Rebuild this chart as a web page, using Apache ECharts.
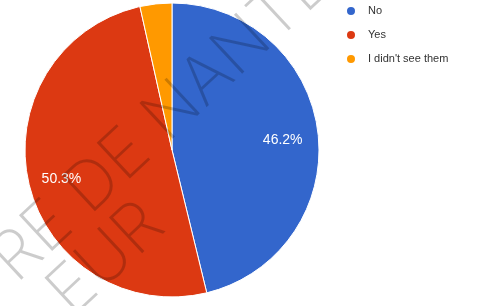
<!DOCTYPE html>
<html>
<head>
    <meta charset="utf-8">
    <title>pie</title>
    <script src="https://cdn.jsdelivr.net/npm/echarts@6/dist/echarts.min.js"></script>
    <style>
        html, body { margin: 0; padding: 0; background: #fff; }
        #pie { width: 494px; height: 306px; }
    </style>
</head>
<body>
<div id="pie"></div>
<script type="text/javascript">
// 数据
var categories = ['No', 'Yes', "I didn't see them"];
var values = [46.2, 50.3, 3.5];
var colors = ['#3366cc', '#dc3912', '#ff9900'];
var showLabel = [true, true, false];

var myChart = echarts.init(document.getElementById('pie'));

var pieData = [];
var labelData = [];
for (var i = 0; i < categories.length; i++) {
    pieData.push({ name: categories[i], value: values[i], itemStyle: { color: colors[i] } });
    labelData.push({ name: categories[i], value: values[i], label: { show: showLabel[i] } });
}

// 水印
var wmFont = '200 67px Inter, "DejaVu Sans", sans-serif';
var wmFill = 'rgba(0,0,0,0.2)';

myChart.setOption({
    animation: false,
    legend: {
        orient: 'vertical',
        left: 345,
        top: 5,
        padding: 0,
        icon: 'circle',
        itemWidth: 10,
        itemHeight: 10,
        itemGap: 12,
        data: categories,
        textStyle: {
            fontFamily: '"Liberation Sans", Arial, sans-serif',
            fontSize: 11,
            color: '#333',
            padding: [0, 0, 0, 7]
        }
    },
    series: [{
        name: 'main',
        type: 'pie',
        center: [172, 150],
        radius: [0, 147],
        startAngle: 90,
        clockwise: true,
        label: { show: false },
        labelLine: { show: false },
        itemStyle: { borderColor: '#fff', borderWidth: 1 },
        data: pieData
    }, {
        name: 'labels',
        type: 'pie',
        center: [172, 150],
        radius: [72, 147],
        startAngle: 90,
        clockwise: true,
        silent: true,
        percentPrecision: 1,
        itemStyle: { color: 'rgba(0,0,0,0)' },
        label: {
            position: 'inside',
            formatter: '{d}%',
            color: '#fff',
            fontFamily: '"Liberation Sans", Arial, sans-serif',
            fontSize: 14,
            offset: [-1, 4]
        },
        labelLine: { show: false },
        data: labelData
    }],
    graphic: [{
        type: 'group',
        x: 0,
        y: 0,
        rotation: 43 * Math.PI / 180,
        silent: true,
        children: [{
            type: 'text',
            x: -182,
            y: 199,
            z: 100,
            style: { text: 'RE DE NANTES', font: wmFont, fill: wmFill, verticalAlign: 'middle' }
        }, {
            type: 'text',
            x: -164,
            y: 262,
            z: 100,
            style: { text: 'EUR', font: wmFont, fill: wmFill, verticalAlign: 'middle' }
        }]
    }]
});
</script>
</body>
</html>
